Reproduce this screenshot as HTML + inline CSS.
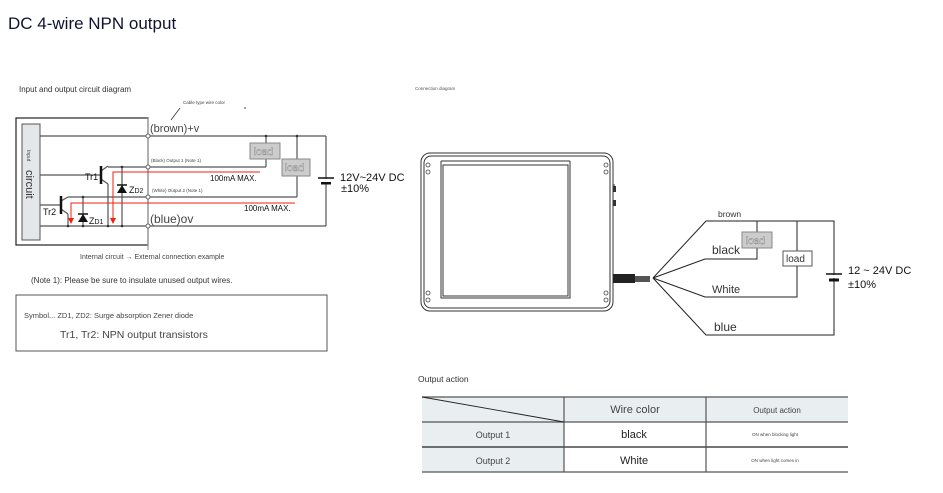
<!DOCTYPE html>
<html><head><meta charset="utf-8"><style>
html,body{margin:0;padding:0;background:#fff;}
svg{display:block;font-family:"Liberation Sans",sans-serif;}
</style></head><body>
<svg width="943" height="493" viewBox="0 0 943 493" xmlns="http://www.w3.org/2000/svg">
<text x="8" y="29" font-size="17" fill="#111133">DC 4-wire NPN output</text>
<text x="19" y="92" font-size="8" fill="#333">Input and output circuit diagram</text>
<text x="183" y="104" font-size="4.5" fill="#444">Cable type wire color</text>
<line x1="180" y1="108" x2="171" y2="120" stroke="#333" stroke-width="0.8"/>
<circle cx="245" cy="108" r="0.8" fill="#333"/>

<g stroke="#555" stroke-width="1.2" fill="none">
<rect x="16" y="118" width="132" height="127" stroke="#222"/>
<line x1="148" y1="118" x2="148" y2="250" stroke="#999"/>
<line x1="40" y1="136" x2="326" y2="136"/>
<line x1="326" y1="136" x2="326" y2="226"/>
<line x1="40" y1="226" x2="326" y2="226"/>
<line x1="266" y1="136" x2="266" y2="167"/>
<line x1="108" y1="167" x2="266" y2="167"/>
<line x1="297" y1="136" x2="297" y2="197"/>
<line x1="68" y1="197" x2="297" y2="197"/>
<line x1="40" y1="175" x2="101" y2="175"/>
<line x1="40" y1="205" x2="61" y2="205"/>
<line x1="101" y1="171" x2="108" y2="166"/>
<line x1="101" y1="179" x2="108" y2="184"/>
<line x1="108" y1="184" x2="108" y2="226"/>
<line x1="61" y1="201" x2="68" y2="197"/>
<line x1="61" y1="209" x2="68" y2="214"/>
<line x1="68" y1="214" x2="68" y2="226"/>
<line x1="122" y1="167" x2="122" y2="226"/>
<line x1="83" y1="197" x2="83" y2="226"/>
</g>
<line x1="101" y1="166" x2="101" y2="184" stroke="#111" stroke-width="2.5"/>
<line x1="61" y1="196" x2="61" y2="214" stroke="#111" stroke-width="2.5"/>
<polygon points="117,193 127,193 122,185" fill="#111"/><line x1="117" y1="185" x2="127" y2="185" stroke="#111" stroke-width="1.5"/>
<polygon points="78,222 88,222 83,214" fill="#111"/><line x1="78" y1="214" x2="88" y2="214" stroke="#111" stroke-width="1.5"/>
<rect x="22" y="124" width="18" height="116" fill="#e4e6e8" stroke="#555" stroke-width="1"/>
<text transform="translate(27,150) rotate(90)" font-size="5" fill="#444">Input</text>
<text transform="translate(26,170) rotate(90)" font-size="11" fill="#333">circuit</text>
<g fill="#fff" stroke="#444" stroke-width="0.8">
<circle cx="148" cy="136" r="2"/><circle cx="148" cy="167" r="2"/><circle cx="148" cy="197" r="2"/><circle cx="148" cy="226" r="2"/>
</g>
<g fill="#333"><circle cx="68" cy="226" r="1.3"/><circle cx="83" cy="226" r="1.3"/><circle cx="108" cy="226" r="1.3"/><circle cx="122" cy="226" r="1.3"/><circle cx="83" cy="197" r="1.3"/><circle cx="122" cy="167" r="1.3"/><circle cx="266" cy="136" r="1.3"/><circle cx="297" cy="136" r="1.3"/></g>
<g stroke="#e21" stroke-width="1" fill="none">
<polyline points="260,172 113,172 113,220"/>
<polyline points="295,203 71,203 71,220"/>
</g>
<polygon points="110,218 116,218 113,224" fill="#e21"/>
<polygon points="68,218 74,218 71,224" fill="#e21"/>
<rect x="250" y="143" width="30" height="16" fill="#ccc" stroke="#888"/>
<text x="254" y="155" font-size="10" fill="#fff" stroke="#777" stroke-width="0.4">load</text>
<rect x="282" y="159" width="28" height="17" fill="#ccc" stroke="#888"/>
<text x="285" y="171" font-size="10" fill="#fff" stroke="#777" stroke-width="0.4">load</text>
<line x1="318" y1="178" x2="334" y2="178" stroke="#111" stroke-width="1.5"/>
<line x1="321" y1="183" x2="331" y2="183" stroke="#111" stroke-width="3"/>
<rect x="320" y="179" width="12" height="3" fill="#fff"/>
<text x="340" y="181" font-size="11" fill="#111">12V~24V  DC</text>
<text x="341" y="192" font-size="11" fill="#111">±10%</text>
<text x="150" y="132" font-size="11" fill="#444">(brown)+v</text>
<text x="151" y="162" font-size="4.5" fill="#444">(Black) Output 1 (Note 1)</text>
<text x="152" y="192" font-size="4.5" fill="#444">(White) Output 2 (Note 1)</text>
<text x="150" y="223" font-size="12" fill="#444">(blue)ov</text>
<text x="210" y="181" font-size="8" fill="#111">100mA MAX.</text>
<text x="244" y="211" font-size="8" fill="#111">100mA MAX.</text>
<text x="85" y="180" font-size="9" fill="#111">Tr1</text>
<text x="43" y="215" font-size="9" fill="#111">Tr2</text>
<text x="129" y="193" font-size="9" fill="#111">Z<tspan font-size="7">D2</tspan></text>
<text x="89" y="224" font-size="9" fill="#111">Z<tspan font-size="7">D1</tspan></text>
<text x="80" y="259" font-size="7" fill="#444">Internal circuit → External connection example</text>
<text x="31" y="283" font-size="8" fill="#333">(Note 1): Please be sure to insulate unused output wires.</text>
<rect x="16" y="295" width="311" height="56" fill="none" stroke="#555" stroke-width="1"/>
<text x="24" y="318" font-size="7.5" fill="#444">Symbol... ZD1, ZD2: Surge absorption Zener diode</text>
<text x="60" y="338" font-size="10.5" fill="#444">Tr1, Tr2: NPN output transistors</text>

<text x="415" y="90" font-size="4.5" fill="#555">Connection diagram</text>
<g fill="none" stroke="#333" stroke-width="1">
<rect x="421" y="153" width="192" height="158" rx="9"/>
<rect x="424" y="156" width="186" height="152" rx="7"/>
<polyline points="441,161 441,298 570,298 570,161"/>
<line x1="441" y1="161" x2="570" y2="161"/>
<rect x="443" y="165" width="125" height="131"/>
<line x1="613" y1="185" x2="615" y2="185"/>
</g>
<g fill="none" stroke="#444" stroke-width="0.8">
<circle cx="428" cy="165" r="2"/><circle cx="428" cy="172" r="2"/>
<circle cx="606" cy="165" r="2"/><circle cx="606" cy="172" r="2"/>
<circle cx="428" cy="293" r="2"/><circle cx="428" cy="300" r="2"/>
<circle cx="606" cy="293" r="2"/><circle cx="606" cy="300" r="2"/>
</g>
<rect x="613" y="186" width="3" height="6" fill="#333"/><rect x="613" y="200" width="3" height="6" fill="#333"/>
<rect x="613" y="274" width="22" height="9" fill="#222"/>
<rect x="635" y="276" width="15" height="6" fill="#555"/>
<g fill="none" stroke="#222" stroke-width="1">
<polyline points="653,278 706,221 834,221 834,335 706,335 653,278"/>
<polyline points="653,278 705,259 757,259 757,221"/>
<polyline points="653,278 705,297 797,297 797,221"/>
</g>
<rect x="742" y="232" width="30" height="16" fill="#ccc" stroke="#888"/>
<text x="746" y="244" font-size="10" fill="#fff" stroke="#777" stroke-width="0.4">load</text>
<rect x="783" y="251" width="29" height="15" fill="#fff" stroke="#555"/>
<text x="786" y="262" font-size="10" fill="#333">load</text>
<line x1="826" y1="274" x2="842" y2="274" stroke="#111" stroke-width="1.5"/>
<line x1="829" y1="280" x2="839" y2="280" stroke="#111" stroke-width="3"/>
<rect x="828" y="275" width="12" height="3" fill="#fff"/>
<text x="848" y="274" font-size="11" fill="#111">12 ~ 24V DC</text>
<text x="848" y="288" font-size="11" fill="#111">±10%</text>
<text x="718" y="217" font-size="8.5" fill="#333">brown</text>
<text x="712" y="254" font-size="12" fill="#333">black</text>
<text x="712" y="293" font-size="11" fill="#333">White</text>
<text x="714" y="331" font-size="12" fill="#333">blue</text>

<text x="418" y="382" font-size="8.5" fill="#333">Output action</text>
<rect x="422" y="397" width="426" height="25" fill="#e9eef0"/>
<rect x="422" y="422" width="142" height="50" fill="#e9eef0"/>
<g stroke="#555" stroke-width="1.2" fill="none">
<line x1="422" y1="397" x2="848" y2="397"/>
<line x1="422" y1="422" x2="848" y2="422"/>
<line x1="422" y1="447" x2="848" y2="447" stroke="#222"/>
<line x1="422" y1="472" x2="848" y2="472"/>
<line x1="564" y1="397" x2="564" y2="472"/>
<line x1="706" y1="397" x2="706" y2="472"/>
<line x1="422" y1="397" x2="564" y2="422" stroke="#222" stroke-width="0.9"/>
</g>
<text x="635" y="413" font-size="11" fill="#444" text-anchor="middle">Wire color</text>
<text x="777" y="413" font-size="8" fill="#444" text-anchor="middle">Output action</text>
<text x="493" y="438" font-size="9" fill="#444" text-anchor="middle">Output 1</text>
<text x="493" y="464" font-size="9" fill="#444" text-anchor="middle">Output 2</text>
<text x="634" y="438" font-size="11" fill="#222" text-anchor="middle">black</text>
<text x="634" y="464" font-size="11" fill="#222" text-anchor="middle">White</text>
<text x="775" y="436" font-size="4.5" fill="#444" text-anchor="middle">ON when blocking light</text>
<text x="775" y="462" font-size="4.5" fill="#444" text-anchor="middle">ON when light comes in</text>
</svg>
</body></html>
